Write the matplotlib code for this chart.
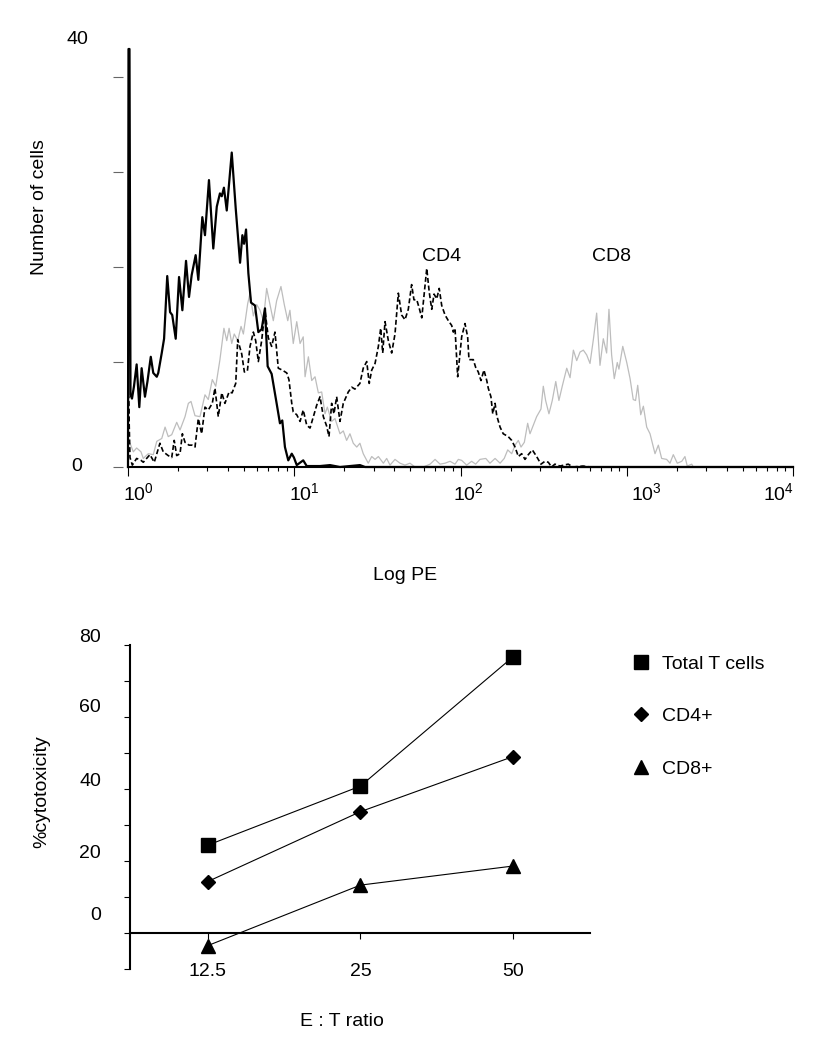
import numpy as np
import matplotlib.pyplot as plt
from matplotlib.ticker import LogLocator, NullFormatter
import matplotlib.transforms as mtransforms

plt.rcParams['font.family'] = ['Liberation Sans', 'DejaVu Sans']
plt.rcParams['mathtext.fontset'] = 'custom'
plt.rcParams['mathtext.rm'] = 'Liberation Sans'

# ---- top panel: flow cytometry histograms (x in log10 decades of PE) ----
unstained_log = [0.000, 0.003, 0.009, 0.015, 0.024, 0.036, 0.052, 0.068, 0.082, 0.102,
                 0.117, 0.137, 0.152, 0.173, 0.182, 0.203, 0.217, 0.236, 0.253, 0.266,
                 0.287, 0.307, 0.327, 0.349, 0.367, 0.383, 0.407, 0.423, 0.447, 0.463,
                 0.487, 0.513, 0.534, 0.553, 0.564, 0.577, 0.594, 0.624, 0.648, 0.674,
                 0.688, 0.698, 0.710, 0.724, 0.740, 0.764, 0.784, 0.804, 0.824, 0.840,
                 0.864, 0.894, 0.914, 0.928, 0.944, 0.964, 0.985, 0.998, 1.015, 1.054,
                 1.075, 1.155, 1.215, 1.275, 1.395, 1.426, 4.000]
unstained_cells = [0.0, 44.0, 44.0, 7.6, 7.2, 8.5, 10.8, 6.3, 10.4, 7.4,
                   9.0, 11.6, 9.9, 9.5, 9.9, 12.0, 13.5, 20.1, 16.3, 16.0,
                   13.5, 20.0, 16.5, 21.7, 17.9, 20.2, 22.3, 19.7, 26.3, 24.4,
                   30.2, 23.0, 27.4, 28.8, 28.5, 29.4, 27.0, 33.1, 27.2, 21.5,
                   24.4, 23.5, 25.0, 20.4, 17.3, 17.0, 14.2, 14.5, 16.7, 10.6,
                   9.8, 6.7, 4.6, 4.9, 2.1, 0.7, 1.4, 1.0, 0.2, 0.7,
                   0.1, 0.1, 0.2, 0.0, 0.2, 0.0, 0.0]

cd4_log = [0.000, 0.003, 0.012, 0.026, 0.052, 0.078, 0.092, 0.112, 0.132, 0.158,
           0.192, 0.212, 0.242, 0.263, 0.278, 0.293, 0.313, 0.327, 0.343, 0.367,
           0.385, 0.403, 0.423, 0.443, 0.463, 0.483, 0.507, 0.523, 0.543, 0.564,
           0.583, 0.608, 0.626, 0.648, 0.660, 0.684, 0.700, 0.718, 0.734, 0.754,
           0.768, 0.784, 0.804, 0.824, 0.844, 0.864, 0.884, 0.904, 0.928, 0.955,
           0.968, 0.985, 0.994, 1.015, 1.035, 1.054, 1.075, 1.095, 1.115, 1.135,
           1.155, 1.175, 1.195, 1.209, 1.225, 1.239, 1.255, 1.275, 1.295, 1.325,
           1.346, 1.365, 1.395, 1.415, 1.436, 1.451, 1.466, 1.486, 1.506, 1.520,
           1.532, 1.546, 1.566, 1.586, 1.606, 1.626, 1.646, 1.666, 1.686, 1.706,
           1.720, 1.737, 1.752, 1.767, 1.780, 1.797, 1.812, 1.827, 1.841, 1.857,
           1.872, 1.887, 1.907, 1.927, 1.947, 1.957, 1.967, 1.983, 2.007, 2.027,
           2.043, 2.051, 2.077, 2.091, 2.107, 2.123, 2.141, 2.158, 2.167, 2.183,
           2.194, 2.208, 2.218, 2.238, 2.257, 2.287, 2.308, 2.328, 2.348, 2.368,
           2.388, 2.408, 2.432, 2.458, 2.484, 2.508, 2.528, 2.548, 2.568, 2.598,
           2.648, 2.677, 2.737, 2.779, 4.000]
cd4_cells = [0.0, 7.5, 1.0, 0.2, 0.9, 0.7, 0.5, 0.9, 1.3, 0.5,
             2.5, 1.6, 1.2, 1.0, 2.8, 1.2, 1.4, 3.5, 2.6, 2.3,
             2.3, 2.1, 5.1, 3.5, 6.3, 6.0, 6.7, 8.3, 5.3, 7.8,
             6.7, 7.9, 7.8, 8.8, 13.4, 11.9, 10.0, 10.1, 12.7, 14.2,
             13.3, 11.1, 13.3, 16.5, 13.6, 12.7, 14.2, 10.4, 10.2, 9.9,
             9.2, 6.7, 5.8, 5.5, 4.8, 6.0, 4.4, 4.1, 5.3, 6.5,
             7.4, 5.3, 4.3, 3.2, 6.7, 5.6, 7.4, 4.8, 6.7, 7.9,
             8.4, 8.2, 8.8, 10.4, 11.1, 8.8, 10.2, 10.9, 12.7, 14.6,
             12.0, 15.3, 13.3, 12.0, 14.0, 18.3, 16.0, 15.5, 16.6, 19.2,
             17.6, 17.6, 16.7, 15.7, 18.0, 20.9, 18.4, 16.6, 18.2, 17.7,
             18.8, 17.0, 16.0, 15.4, 14.9, 14.2, 14.6, 9.5, 13.7, 15.1,
             13.7, 11.3, 11.3, 10.5, 10.0, 9.1, 10.2, 9.1, 8.3, 7.4,
             5.6, 6.7, 5.4, 4.2, 3.5, 3.2, 2.8, 2.1, 1.1, 1.4,
             0.8, 1.3, 1.8, 1.1, 0.3, 0.6, 0.5, 0.0, 0.3, 0.1,
             0.3, 0.0, 0.1, 0.0, 0.0]

cd8_log = [0.000, 0.012, 0.032, 0.052, 0.078, 0.092, 0.122, 0.152, 0.173, 0.203,
           0.223, 0.242, 0.263, 0.293, 0.313, 0.343, 0.363, 0.379, 0.403, 0.433,
           0.463, 0.483, 0.507, 0.528, 0.553, 0.577, 0.594, 0.608, 0.624, 0.639,
           0.660, 0.680, 0.694, 0.720, 0.734, 0.754, 0.774, 0.794, 0.814, 0.834,
           0.854, 0.874, 0.894, 0.920, 0.940, 0.961, 0.974, 0.994, 1.015, 1.035,
           1.054, 1.065, 1.085, 1.105, 1.125, 1.145, 1.165, 1.185, 1.199, 1.225,
           1.245, 1.275, 1.295, 1.315, 1.335, 1.355, 1.376, 1.395, 1.415, 1.445,
           1.466, 1.486, 1.506, 1.536, 1.556, 1.576, 1.606, 1.636, 1.666, 1.696,
           1.726, 1.776, 1.817, 1.847, 1.877, 1.907, 1.937, 1.967, 1.987, 2.007,
           2.037, 2.067, 2.091, 2.117, 2.152, 2.177, 2.208, 2.238, 2.263, 2.284,
           2.308, 2.328, 2.348, 2.364, 2.384, 2.404, 2.418, 2.438, 2.458, 2.484,
           2.498, 2.512, 2.532, 2.552, 2.573, 2.592, 2.612, 2.639, 2.659, 2.679,
           2.699, 2.719, 2.739, 2.759, 2.779, 2.799, 2.819, 2.839, 2.859, 2.879,
           2.893, 2.909, 2.925, 2.943, 2.953, 2.976, 3.000, 3.020, 3.039, 3.053,
           3.066, 3.084, 3.100, 3.120, 3.140, 3.170, 3.190, 3.210, 3.240, 3.260,
           3.280, 3.304, 3.331, 3.350, 3.364, 3.391, 3.400, 4.000]
cd8_cells = [2.5, 2.5, 1.6, 2.0, 1.6, 0.9, 1.4, 1.3, 2.7, 3.0,
             4.2, 3.2, 3.4, 4.7, 3.9, 5.3, 6.7, 6.9, 5.4, 5.3,
             7.6, 7.1, 9.2, 8.5, 11.3, 14.6, 13.3, 14.6, 13.0, 14.0,
             13.3, 14.8, 14.0, 17.2, 18.3, 15.9, 17.1, 16.5, 15.4, 18.8,
             17.1, 15.4, 17.5, 19.0, 17.1, 15.4, 16.5, 13.0, 15.3, 13.0,
             13.7, 9.5, 11.6, 9.1, 9.5, 7.8, 7.9, 5.6, 6.3, 4.8,
             5.1, 3.5, 3.8, 2.8, 3.5, 2.5, 2.1, 2.5, 1.4, 0.4,
             1.1, 0.8, 1.1, 0.4, 0.9, 0.2, 0.8, 0.4, 0.2, 0.4,
             0.0, 0.0, 0.3, 0.8, 0.3, 0.4, 0.6, 0.3, 0.8, 0.7,
             0.2, 0.6, 0.3, 0.8, 0.9, 0.4, 0.9, 0.4, 0.9, 1.8,
             1.4, 2.3, 2.8, 2.1, 2.6, 4.6, 3.5, 4.4, 5.3, 6.1,
             8.5, 7.0, 5.6, 7.0, 9.0, 7.0, 8.5, 10.4, 9.4, 12.3,
             11.2, 12.1, 12.3, 11.8, 10.9, 13.4, 16.2, 10.7, 13.5, 12.0,
             16.6, 11.8, 9.3, 11.0, 10.3, 12.7, 11.0, 9.3, 7.1, 7.0,
             8.6, 5.5, 6.4, 4.2, 3.5, 1.4, 2.3, 0.9, 0.8, 0.4,
             1.3, 0.4, 0.6, 1.1, 0.1, 0.3, 0.0, 0.0]

decades = [0, 1, 2, 3, 4]

# ---- bottom panel: cytotoxicity ----
ratios = ['12.5', '25', '50']
total_t = [24.4, 40.8, 76.7]
cd4_pos = [14.3, 33.7, 49.0]
cd8_pos = [-3.5, 13.3, 18.6]
series_names = ['Total T cells', 'CD4+', 'CD8+']
pct_ticks = [0, 20, 40, 60, 80]

W, H = 813, 1050
fig = plt.figure(figsize=(W / 100, H / 100), dpi=100)

# ================= top histogram =================
ax1 = fig.add_axes([128 / W, 1 - 467 / H, 665 / W, 437 / H])
ax1.set_xscale('log')
ax1.set_xlim(1, 1e4)
ax1.set_ylim(0, 46)

ax1.plot(10 ** np.array(cd8_log), cd8_cells, color='#bdbdbd', lw=0.9, zorder=2)
ax1.plot(10 ** np.array(cd4_log), cd4_cells, color='black', lw=1.2,
         linestyle=(0, (3, 1.6)), zorder=3)
ax1.plot(10 ** np.array(unstained_log), unstained_cells, color='black', lw=1.6,
         zorder=4, clip_on=False)

for s in ['top', 'right']:
    ax1.spines[s].set_visible(False)
ax1.spines['left'].set_position(('outward', 3.6))
ax1.spines['left'].set_visible(False)
ax1.spines['bottom'].set_linewidth(1.5)

ax1.set_yticks([0, 11, 21, 31, 41])
ax1.set_yticklabels([])
ax1.tick_params(axis='y', length=7.2, width=0.8, color='#666666', direction='out')
ax1.xaxis.set_major_locator(LogLocator(base=10, numticks=10))
ax1.xaxis.set_minor_locator(LogLocator(base=10, subs=np.arange(2, 10), numticks=50))
ax1.xaxis.set_major_formatter(NullFormatter())
ax1.xaxis.set_minor_formatter(NullFormatter())
ax1.tick_params(axis='x', which='major', length=6.5, width=0.8, direction='out')
ax1.tick_params(axis='x', which='minor', length=3, width=0.8, direction='out')

label_dx = [10, 10, 8, 20, -15]
for k, dx in zip(decades, label_dx):
    ax1.annotate(r'$\mathregular{10^{%d}}$' % k, xy=(10 ** k, 0),
                 xycoords=('data', 'data'), xytext=(dx * 0.72, -26 * 0.72),
                 textcoords='offset points', ha='center', va='center', fontsize=14)

ytr = mtransforms.blended_transform_factory(ax1.transAxes, ax1.transData)
ax1.text(-51 / 665, (467 - 40) / 9.5, '40', transform=ytr, ha='center', va='center', fontsize=14)
ax1.text(-51 / 665, 0, '0', transform=ytr, ha='center', va='center', fontsize=14)

ax1.text(10 ** 1.889, 22.2, 'CD4', ha='center', va='center', fontsize=14)
ax1.text(10 ** 2.911, 22.2, 'CD8', ha='center', va='center', fontsize=14)

fig.text(40 / W, 1 - 207 / H, 'Number of cells', rotation=90, ha='center', va='center', fontsize=14)
fig.text(405 / W, 1 - 575 / H, 'Log PE', ha='center', va='center', fontsize=14)

# ================= bottom line chart =================
ax2 = fig.add_axes([130 / W, 1 - 969 / H, 460 / W, 324 / H])
xpos = np.arange(len(ratios))
l1, = ax2.plot(xpos, total_t, color='black', lw=0.8, marker='s', ms=9.6, label=series_names[0])
l2, = ax2.plot(xpos, cd4_pos, color='black', lw=0.8, marker='D', ms=7.5, label=series_names[1])
l3, = ax2.plot(xpos, cd8_pos, color='black', lw=0.8, marker='^', ms=9.7, label=series_names[2])
ax2.set_xlim(-0.51, 2.505)
ax2.set_ylim(-10, 80)

for s in ['top', 'right']:
    ax2.spines[s].set_visible(False)
ax2.spines['bottom'].set_position(('data', 0))
ax2.spines['bottom'].set_linewidth(1.5)
ax2.spines['left'].set_linewidth(1.5)

ax2.set_yticks(np.arange(-10, 81, 10))
ax2.set_yticklabels([])
ax2.tick_params(axis='y', length=4.3, width=0.8, direction='out')
ax2.set_xticks(xpos)
ax2.set_xticklabels(ratios, fontsize=14)
ax2.tick_params(axis='x', length=4.3, width=0.8, direction='out', pad=17)

ylab_dy = [18, 8, 8, 9, 8]
ytr2 = mtransforms.blended_transform_factory(ax2.transAxes, ax2.transData)
for v, dy in zip(pct_ticks, ylab_dy):
    ax2.text(-29 / 460, v + dy / 3.6, str(v), transform=ytr2, ha='right', va='center', fontsize=14)

fig.text(42 / W, 1 - 792 / H, '%cytotoxicity', rotation=90, ha='center', va='center', fontsize=14)
fig.text(342 / W, 1 - 1022 / H, 'E : T ratio', ha='center', va='center', fontsize=14)

leg = ax2.legend(handles=[l1, l2, l3], loc='upper left', bbox_to_anchor=(632 / W, 1 - 655 / H),
                 bbox_transform=fig.transFigure, frameon=False, fontsize=14,
                 handlelength=0.9, handletextpad=0.65, labelspacing=1.8,
                 borderpad=0, borderaxespad=0)
for h in leg.get_lines():
    h.set_linestyle('None')

fig.savefig('out.png', dpi=100)
